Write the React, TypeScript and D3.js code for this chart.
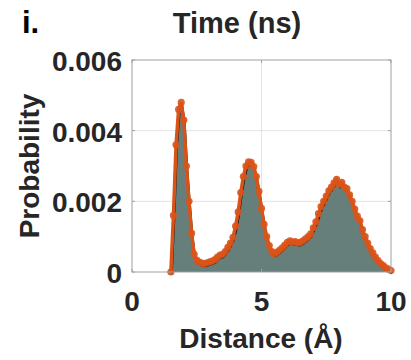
import React from "react";
import * as d3 from "d3";

// Pair-distance histogram (bin centres in Å and probability per bin)
const distances: number[] = [
  1.5, 1.6, 1.7, 1.8, 1.9, 2.0, 2.1, 2.2, 2.3, 2.4,
  2.5, 2.6, 2.7, 2.8, 2.9, 3.0, 3.1, 3.2, 3.3, 3.4,
  3.5, 3.6, 3.7, 3.8, 3.9, 4.0, 4.1, 4.2, 4.3, 4.4,
  4.5, 4.6, 4.7, 4.8, 4.9, 5.0, 5.1, 5.2, 5.3, 5.4,
  5.5, 5.6, 5.7, 5.8, 5.9, 6.0, 6.1, 6.2, 6.3, 6.4,
  6.5, 6.6, 6.7, 6.8, 6.9, 7.0, 7.1, 7.2, 7.3, 7.4,
  7.5, 7.6, 7.7, 7.8, 7.9, 8.0, 8.1, 8.2, 8.3, 8.4,
  8.5, 8.6, 8.7, 8.8, 8.9, 9.0, 9.1, 9.2, 9.3, 9.4,
  9.5, 9.6, 9.7, 9.8, 9.9, 10.0,
];

const probability: number[] = [
  0.0, 0.0016, 0.0036, 0.0046, 0.0048, 0.0043, 0.003, 0.002, 0.0011, 0.0005,
  0.00034, 0.00028, 0.00025, 0.00024, 0.00026, 0.00029, 0.00031, 0.00035, 0.00042, 0.00048,
  0.0005, 0.00058, 0.0007, 0.00082, 0.00098, 0.0013, 0.0017, 0.00225, 0.0027, 0.003,
  0.00312, 0.0031, 0.00298, 0.0027, 0.00228, 0.0018, 0.00135, 0.001, 0.00075, 0.00058,
  0.00052, 0.00056, 0.00062, 0.00068, 0.00076, 0.00084, 0.00088, 0.00084, 0.00086, 0.00082,
  0.00084, 0.00088, 0.00094, 0.001, 0.00108, 0.00125, 0.00142, 0.00165, 0.00185, 0.002,
  0.00215, 0.0023, 0.0024, 0.00252, 0.00262, 0.00248, 0.00254, 0.0024, 0.00236, 0.00218,
  0.002, 0.00178, 0.00158, 0.00145, 0.0012, 0.001, 0.00082, 0.00066, 0.00054, 0.00042,
  0.00032, 0.00024, 0.00018, 0.00012, 0.00008, 0.00004,
];

const xTicks: number[] = [0, 5, 10];
const yTicks: number[] = [0, 0.002, 0.004, 0.006];
const yTickLabels: string[] = ["0", "0.002", "0.004", "0.006"];

const W = 411;
const H = 360;
const plot = { left: 132, right: 391, top: 60, bottom: 272 };
const FONT = "'Liberation Sans', Arial, sans-serif";

export default function App() {
  const x = d3.scaleLinear().domain([0, 10]).range([plot.left, plot.right]);
  const y = d3.scaleLinear().domain([0, 0.006]).range([plot.bottom, plot.top]);
  const pts = distances.map((d, i) => ({ d, p: probability[i] }));

  const area = d3
    .area<{ d: number; p: number }>()
    .x((v) => x(v.d))
    .y0(y(0))
    .y1((v) => y(v.p))(pts) as string;
  const line = d3
    .line<{ d: number; p: number }>()
    .x((v) => x(v.d))
    .y((v) => y(v.p))(pts) as string;

  const textColor = "#262626";
  const axisColor = "#a0a0a0";

  return (
    <svg
      width={W}
      height={H}
      style={{ position: "absolute", left: 0, top: 0, background: "#fff" }}
      fontFamily={FONT}
      fontWeight="bold"
    >
      {/* grid */}
      {xTicks.slice(1, -1).map((t) => (
        <line key={"gx" + t} x1={x(t)} x2={x(t)} y1={plot.top} y2={plot.bottom} stroke="#e3e3e3" strokeWidth={1} />
      ))}
      {yTicks.slice(1, -1).map((t) => (
        <line key={"gy" + t} x1={plot.left} x2={plot.right} y1={y(t)} y2={y(t)} stroke="#e3e3e3" strokeWidth={1} />
      ))}

      {/* histogram fill and outline */}
      <path d={area} fill="#667f7b" />
      <path d={line} fill="none" stroke="#111" strokeWidth={2.2} transform="translate(0.8,2.6)" />
      <path d={line} fill="none" stroke="#d95319" strokeWidth={3.5} />
      {pts.map((v, i) => (
        <circle key={i} cx={x(v.d)} cy={y(v.p)} r={3.6} fill="#d95319" fillOpacity={0.9} />
      ))}

      {/* axes box */}
      <rect
        x={plot.left}
        y={plot.top}
        width={plot.right - plot.left}
        height={plot.bottom - plot.top}
        fill="none"
        stroke={axisColor}
        strokeWidth={1}
      />
      {xTicks.map((t) => (
        <g key={"tx" + t}>
          <line x1={x(t)} x2={x(t)} y1={plot.bottom} y2={plot.bottom - 3} stroke={axisColor} />
          <line x1={x(t)} x2={x(t)} y1={plot.top} y2={plot.top + 3} stroke={axisColor} />
          <text x={x(t)} y={plot.bottom + 39} textAnchor="middle" fontSize={28} fill={textColor}>
            {t}
          </text>
        </g>
      ))}
      {yTicks.map((t, i) => (
        <g key={"ty" + t}>
          <line x1={plot.left} x2={plot.left + 3} y1={y(t)} y2={y(t)} stroke={axisColor} />
          <line x1={plot.right} x2={plot.right - 3} y1={y(t)} y2={y(t)} stroke={axisColor} />
          <text x={plot.left - 10} y={y(t) + 11} textAnchor="end" fontSize={28} fill={textColor}>
            {yTickLabels[i]}
          </text>
        </g>
      ))}

      {/* labels */}
      <text x={22} y={33} fontSize={31} fill="#000">i.</text>
      <text x={237} y={33} textAnchor="middle" fontSize={29} fill={textColor}>
        Time (ns)
      </text>
      <text x={261} y={348} textAnchor="middle" fontSize={28} fill={textColor}>
        Distance (Å)
      </text>
      <text
        transform={`translate(39,166) rotate(-90)`}
        textAnchor="middle"
        fontSize={28}
        fill={textColor}
      >
        Probability
      </text>
    </svg>
  );
}
